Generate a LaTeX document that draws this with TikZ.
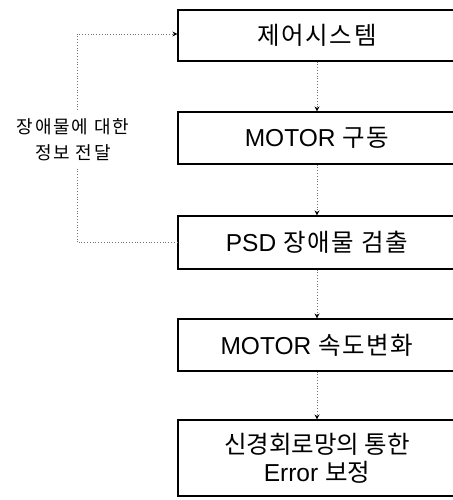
\documentclass[tikz,border=0pt]{standalone}
\usepackage{fontspec}
\setmainfont{Liberation Sans}
\newfontfamily\kr{Noto Sans CJK KR}
\newfontfamily\krb[LetterSpace=7]{Noto Sans CJK KR}
\newfontfamily\krw[LetterSpace=10]{Noto Sans CJK KR}
\usetikzlibrary{arrows.meta}
\begin{document}
\begin{tikzpicture}[x=1pt,y=-1pt,
  stepbox/.style={draw=black,line width=1.1pt,fill=white,minimum width=278pt,inner sep=0pt,align=center,font=\fontsize{24.5}{28}\selectfont},
  conn/.style={draw=black!55,dotted,line width=0.8pt},
  tip/.style={-{Stealth[length=5pt,width=5pt,black]}},
  lbl/.style={align=center,font=\krw\fontsize{18}{26}\selectfont}]
\useasboundingbox (0,0) rectangle (452,500);
\node[stepbox,minimum height=51pt] (b1) at (317,35.5) {\krb 제어시스템};
\node[stepbox,minimum height=52pt] (b2) at (317,138) {MOTOR {\krb 구동}};
\node[stepbox,minimum height=53pt] (b3) at (317,242.5) {PSD {\krb 장애물 검출}};
\node[stepbox,minimum height=52pt] (b4) at (317,345) {MOTOR {\krb 속도변화}};
\node[stepbox,minimum height=76pt] (b5) at (317,458) {{\kr 신경회로망의 통한}\\Error {\kr 보정}};
\node[lbl] (info) at (73,140) {장애물에 대한\\정보 전달};
\draw[conn,tip] (b1) -- (b2);
\draw[conn,tip] (b2) -- (b3);
\draw[conn,tip] (b3) -- (b4);
\draw[conn,tip] (b4) -- (b5);
\coordinate (fbB) at (77,242.5);
\coordinate (gapB) at (77,167);
\coordinate (gapT) at (77,110);
\coordinate (fbT) at (77,34);
\draw[conn] (b3.west) -- (fbB) -- (gapB);
\draw[conn,tip] (gapT) -- (fbT) -- (b1.west |- fbT);
\end{tikzpicture}
\end{document}
